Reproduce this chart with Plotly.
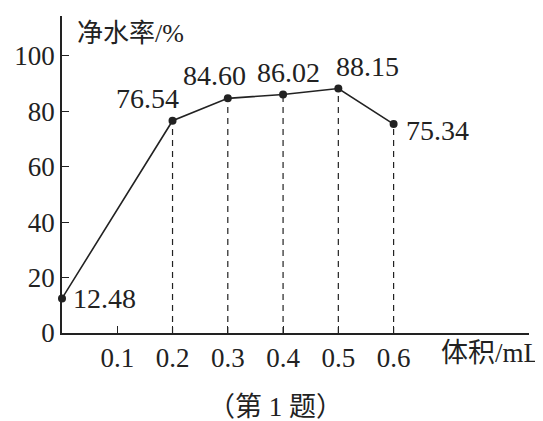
import plotly.graph_objects as go

# data
volume = [0.0, 0.2, 0.3, 0.4, 0.5, 0.6]
rate = [12.48, 76.54, 84.60, 86.02, 88.15, 75.34]
rate_labels = ["12.48", "76.54", "84.60", "86.02", "88.15", "75.34"]
x_ticks = [0.1, 0.2, 0.3, 0.4, 0.5, 0.6]
y_ticks = [0, 20, 40, 60, 80, 100]

# label placement (pixels from the point)
lab_anchor = ["left", "center", "center", "center", "center", "left"]
lab_dx = [9, -25, -13, 5, 29, 10]
lab_dy = [0, 22, 23, 22, 22, -6]

serif = "Liberation Serif, Noto Sans CJK SC"
ink = "#222"

fig = go.Figure()

# dashed drop lines from each point down to the x axis
for xv, yv in zip(volume[1:], rate[1:]):
    fig.add_trace(go.Scatter(x=[xv, xv], y=[0, yv], mode="lines",
                             line=dict(color=ink, width=1.2, dash="6px,5px"),
                             hoverinfo="skip", showlegend=False))

fig.add_trace(go.Scatter(
    x=volume, y=rate, mode="lines+markers",
    line=dict(color=ink, width=1.6),
    marker=dict(color=ink, size=8),
    cliponaxis=False, showlegend=False))

for xv, yv, t, a, dx, dy in zip(volume, rate, rate_labels, lab_anchor, lab_dx, lab_dy):
    fig.add_annotation(x=xv, y=yv, text=t, showarrow=False,
                       xanchor=a, yanchor="middle", xshift=dx, yshift=dy,
                       font=dict(family=serif, size=28, color=ink))

fig.update_xaxes(range=[0, 0.845], tickvals=x_ticks, ticktext=[str(v) for v in x_ticks],
                 showline=True, linecolor=ink, linewidth=1.6, automargin=False,
                 ticks="inside", ticklen=7, tickcolor=ink, showgrid=False, zeroline=False,
                 tickfont=dict(family=serif, size=27, color=ink))
fig.update_yaxes(range=[0, 114.3], tickvals=y_ticks,
                 showline=True, linecolor=ink, linewidth=1.6, automargin=False,
                 ticks="inside", ticklen=7, tickcolor=ink, showgrid=False, zeroline=False,
                 ticklabelstandoff=0,
                 tickfont=dict(family=serif, size=27, color=ink))

fig.add_annotation(text="净水率/%", xref="paper", yref="paper", x=0.028, y=0.946,
                   xanchor="left", yanchor="middle", showarrow=False,
                   font=dict(family=serif, size=26, color=ink))
fig.add_annotation(text="体积/mL", xref="paper", yref="paper", x=0.807, y=-0.063,
                   xanchor="left", yanchor="middle", showarrow=False,
                   font=dict(family=serif, size=27, color=ink))
fig.add_annotation(text="（第 1 题）", xref="paper", yref="paper", x=0.458, y=-0.233,
                   xanchor="center", yanchor="middle", showarrow=False,
                   font=dict(family=serif, size=27, color=ink))

fig.update_layout(width=543, height=421, margin=dict(l=54, r=22, t=8, b=96),
                  plot_bgcolor="white", paper_bgcolor="white")

fig.write_html("out.html")
